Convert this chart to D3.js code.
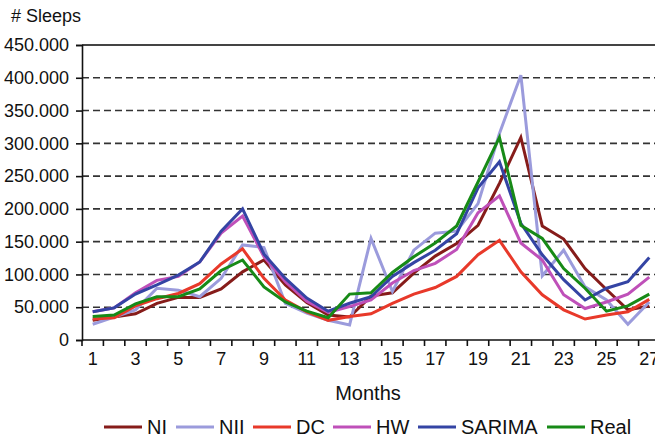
<!DOCTYPE html>
<html>
<head>
<meta charset="utf-8">
<script src="https://cdn.jsdelivr.net/npm/d3@7"></script>
<style>
  html, body { margin: 0; padding: 0; background: #fff; }
  svg { display: block; font-family: "Liberation Sans", Arial, sans-serif; }
</style>
</head>
<body>
<svg id="chart" width="655" height="440"></svg>
<script>
const months = d3.range(1, 28);
const yTicks = [0, 50000, 100000, 150000, 200000, 250000, 300000, 350000, 400000, 450000];
const seriesNames = ["NI", "NII", "DC", "HW", "SARIMA", "Real"];
const seriesColors = ["#861c1a", "#9b9bdc", "#e8392a", "#bf50b9", "#3444a4", "#178a17"];

const NI     = [30, 35, 40, 56, 65, 65, 78, 104, 122, 84, 57, 38, 35, 67, 72, 102, 128, 147, 175, 239, 309, 174, 154, 109, 77, 46, 52];
const NII    = [24, 35, 46, 79, 76, 66, 94, 145, 141, 56, 41, 30, 23, 155, 74, 137, 163, 166, 208, 315, 404, 98, 137, 81, 61, 24, 58];
const DC     = [32, 34, 52, 63, 71, 86, 116, 139, 94, 61, 43, 30, 36, 40, 56, 70, 80, 97, 130, 152, 104, 69, 46, 32, 38, 43, 62];
const HW     = [43, 49, 72, 91, 97, 119, 163, 189, 127, 89, 59, 42, 51, 61, 87, 106, 117, 138, 194, 220, 148, 122, 69, 48, 58, 70, 96];
const SARIMA = [43, 49, 70, 84, 99, 119, 166, 200, 131, 94, 64, 44, 56, 66, 97, 118, 137, 162, 232, 272, 178, 130, 92, 61, 79, 89, 126];
const Real   = [36, 38, 55, 66, 66, 78, 106, 122, 81, 58, 44, 34, 70, 72, 103, 127, 148, 174, 241, 309, 175, 155, 109, 79, 44, 52, 70];

const seriesValues = [NI, NII, DC, HW, SARIMA, Real];

const svg = d3.select("#chart");
const mLeft = 82, mRight = 660, mTop = 45, mBottom = 340;

const x = d3.scaleBand().domain(months).range([mLeft, mRight]).padding(0);
const y = d3.scaleLinear().domain([0, 450000]).range([mBottom, mTop]);

const loc = d3.formatLocale({decimal: ",", thousands: ".", grouping: [3], currency: ["", ""]});
const fmt = loc.format(",");

// gridlines
svg.append("g").selectAll("line")
  .data(yTicks.filter(d => d > 0 && d < 450000))
  .join("line")
  .attr("x1", mLeft).attr("x2", 655)
  .attr("y1", d => y(d)).attr("y2", d => y(d))
  .attr("stroke", "#333").attr("stroke-width", 1.6)
  .attr("stroke-dasharray", "7,4");

// top border
svg.append("line")
  .attr("x1", mLeft).attr("x2", 655)
  .attr("y1", y(450000)).attr("y2", y(450000))
  .attr("stroke", "#444").attr("stroke-width", 2);

// y axis
const yAxis = svg.append("g")
  .attr("transform", `translate(${mLeft},0)`)
  .call(d3.axisLeft(y).tickValues(yTicks).tickFormat(fmt).tickSize(6).tickPadding(7));
yAxis.select(".domain").attr("stroke", "#111").attr("stroke-width", 1.6);
yAxis.selectAll(".tick line").attr("stroke", "#111").attr("stroke-width", 1.6);
yAxis.selectAll(".tick text").attr("font-size", 18).attr("fill", "#111")
  .attr("font-family", "'Liberation Sans', Arial, sans-serif");

// x axis
const xAxis = svg.append("g")
  .attr("transform", `translate(0,${mBottom})`)
  .call(d3.axisBottom(x).tickValues(months.filter(m => m % 2 === 1)).tickSize(0).tickPadding(12));
xAxis.select(".domain").remove();
xAxis.selectAll(".tick text").attr("font-size", 18).attr("fill", "#111")
  .attr("font-family", "'Liberation Sans', Arial, sans-serif");
svg.append("line")
  .attr("x1", mLeft).attr("x2", 655)
  .attr("y1", mBottom).attr("y2", mBottom)
  .attr("stroke", "#111").attr("stroke-width", 1.6);
// tick marks at category boundaries
svg.append("g").selectAll("line")
  .data(d3.range(0, 28))
  .join("line")
  .attr("x1", i => mLeft + i * x.bandwidth())
  .attr("x2", i => mLeft + i * x.bandwidth())
  .attr("y1", mBottom).attr("y2", mBottom + 6)
  .attr("stroke", "#111").attr("stroke-width", 1.6);

// lines
const line = d3.line()
  .x((d, i) => x(months[i]) + x.bandwidth() / 2)
  .y(d => y(d * 1000));

svg.append("g").selectAll("path")
  .data(seriesValues)
  .join("path")
  .attr("d", d => line(d))
  .attr("fill", "none")
  .attr("stroke", (d, i) => seriesColors[i])
  .attr("stroke-width", 3)
  .attr("stroke-linejoin", "miter");

// titles
svg.append("text").attr("x", 11).attr("y", 22)
  .attr("font-size", 18).attr("fill", "#111").text("# Sleeps");
svg.append("text").attr("x", 368).attr("y", 400)
  .attr("text-anchor", "middle").attr("font-size", 20).attr("fill", "#111").text("Months");

// legend
const legendX = [104, 176, 253, 333, 418, 547];
const lg = svg.append("g");
seriesNames.forEach((name, i) => {
  lg.append("line")
    .attr("x1", legendX[i]).attr("x2", legendX[i] + 38)
    .attr("y1", 427).attr("y2", 427)
    .attr("stroke", seriesColors[i]).attr("stroke-width", 3);
  lg.append("text")
    .attr("x", legendX[i] + 43).attr("y", 434)
    .attr("font-size", 20).attr("fill", "#111").text(name);
});
</script>
</body>
</html>
